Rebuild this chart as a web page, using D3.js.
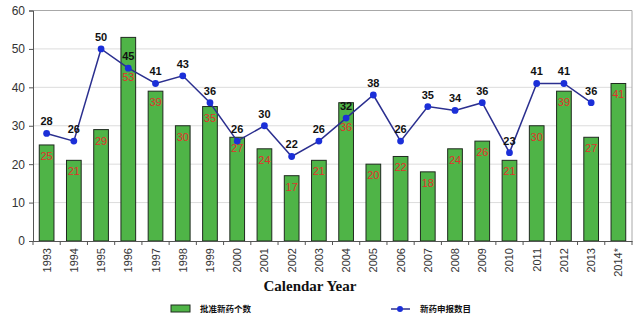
<!DOCTYPE html>
<html><head><meta charset="utf-8">
<script src="https://cdn.jsdelivr.net/npm/d3@7"></script>
<style>body{margin:0;background:#fff}svg{display:block}</style>
</head><body><svg id="c" width="639" height="329"></svg>
<script>
const years = ["1993","1994","1995","1996","1997","1998","1999","2000","2001","2002","2003","2004","2005","2006","2007","2008","2009","2010","2011","2012","2013","2014*"];
const approved = [25,21,29,53,39,30,35,27,24,17,21,36,20,22,18,24,26,21,30,39,27,41];
const submitted = [28,26,50,45,41,43,36,26,30,22,26,32,38,26,35,34,36,23,41,41,36,null];
const yTicks = [0,10,20,30,40,50,60];
const xTitle = "Calendar Year";
const legendBar = "批准新药个数";
const legendLine = "新药申报数目";

const svg = d3.select("#c");
const L = 33, R = 632, T = 10.5, B = 241;
const x = d3.scaleBand().domain(years).range([L, R]).paddingInner(0.46).paddingOuter(0.23);
const y = d3.scaleLinear().domain([0, 60]).range([B, T]);

// gridlines
svg.append("g").selectAll("line").data(yTicks.filter(d => d > 0 && d < 60)).join("line")
  .attr("x1", L).attr("x2", R).attr("y1", d => y(d)).attr("y2", d => y(d))
  .attr("stroke", "#dcdcdc").attr("stroke-width", 1);
// frame top and right
svg.append("line").attr("x1", L).attr("x2", R).attr("y1", y(60)).attr("y2", y(60)).attr("stroke", "#a8a8a8");
svg.append("line").attr("x1", R).attr("x2", R).attr("y1", y(60)).attr("y2", B).attr("stroke", "#a8a8a8");

// bars
svg.append("g").selectAll("rect").data(approved).join("rect")
  .attr("x", (d, i) => x(years[i])).attr("width", x.bandwidth())
  .attr("y", d => y(d)).attr("height", d => B - y(d))
  .attr("fill", "#4fb447").attr("stroke", "#1f2a1f").attr("stroke-width", 1);

// axes
const yAxis = svg.append("g").attr("transform", `translate(${L},0)`)
  .call(d3.axisLeft(y).tickValues(yTicks).tickSize(4).tickPadding(4));
yAxis.select(".domain").attr("stroke", "#555");
yAxis.selectAll(".tick line").attr("stroke", "#555");
yAxis.selectAll("text").attr("font-family", "Liberation Sans, Arial, sans-serif").attr("font-size", 12).attr("fill", "#333");

const xAxis = svg.append("g").attr("transform", `translate(0,${B})`)
  .call(d3.axisBottom(x).tickSize(0).tickPadding(6));
xAxis.select(".domain").attr("stroke", "#555");
xAxis.selectAll("text").attr("font-family", "Liberation Sans, Arial, sans-serif").attr("font-size", 11).attr("fill", "#333")
  .attr("transform", "rotate(-90)").attr("text-anchor", "end").attr("dy", null)
  .attr("x", -7).attr("y", 0).attr("dominant-baseline", "central");
// band boundary ticks
svg.append("g").selectAll("line").data(d3.range(years.length + 1)).join("line")
  .attr("x1", i => L + i * (R - L) / years.length).attr("x2", i => L + i * (R - L) / years.length)
  .attr("y1", B).attr("y2", B + 4).attr("stroke", "#555");

// line
const pts = submitted.map((v, i) => ({v, i})).filter(d => d.v !== null);
const line = d3.line().x(d => x(years[d.i]) + x.bandwidth() / 2).y(d => y(d.v));
svg.append("path").datum(pts).attr("d", line).attr("fill", "none").attr("stroke", "#2b2f8f").attr("stroke-width", 1.5);
svg.append("g").selectAll("circle").data(pts).join("circle")
  .attr("cx", d => x(years[d.i]) + x.bandwidth() / 2).attr("cy", d => y(d.v)).attr("r", 3.4)
  .attr("fill", "#1b2fd8");

// bar labels (red) — moved below the line marker when the marker sits deep inside the bar
svg.append("g").selectAll("text").data(approved).join("text")
  .attr("x", (d, i) => x(years[i]) + x.bandwidth() / 2)
  .attr("y", (d, i) => {
    const s = submitted[i];
    if (s !== null && d - s >= 4) return y(s) + 13;
    return y(d) + 15;
  })
  .attr("text-anchor", "middle").attr("font-family", "Liberation Sans, Arial, sans-serif")
  .attr("font-size", 11).attr("fill", "#e0322b").text(d => d);

// line labels (black)
svg.append("g").selectAll("text").data(pts).join("text")
  .attr("x", d => x(years[d.i]) + x.bandwidth() / 2).attr("y", d => y(d.v) - 8)
  .attr("text-anchor", "middle").attr("font-family", "Liberation Sans, Arial, sans-serif")
  .attr("font-size", 11).attr("font-weight", "bold").attr("fill", "#111").text(d => d.v);

// x title
svg.append("text").attr("x", 310).attr("y", 291).attr("text-anchor", "middle")
  .attr("font-family", "Liberation Serif, DejaVu Serif, serif").attr("font-weight", "bold")
  .attr("font-size", 15).attr("fill", "#111").text(xTitle);

// legend
const lg = svg.append("g");
lg.append("rect").attr("x", 171).attr("y", 305).attr("width", 19).attr("height", 7)
  .attr("fill", "#4fb447").attr("stroke", "#1f2a1f");
lg.append("text").attr("x", 200).attr("y", 312).attr("font-family", "Noto Sans CJK SC, sans-serif")
  .attr("font-weight", "bold").attr("font-size", 8.5).attr("fill", "#111").text(legendBar);
lg.append("line").attr("x1", 391).attr("x2", 410).attr("y1", 309).attr("y2", 309).attr("stroke", "#2b2f8f").attr("stroke-width", 1.5);
lg.append("circle").attr("cx", 400).attr("cy", 309).attr("r", 3).attr("fill", "#1b2fd8");
lg.append("text").attr("x", 420).attr("y", 312).attr("font-family", "Noto Sans CJK SC, sans-serif")
  .attr("font-weight", "bold").attr("font-size", 8.5).attr("fill", "#111").text(legendLine);
</script></body></html>
